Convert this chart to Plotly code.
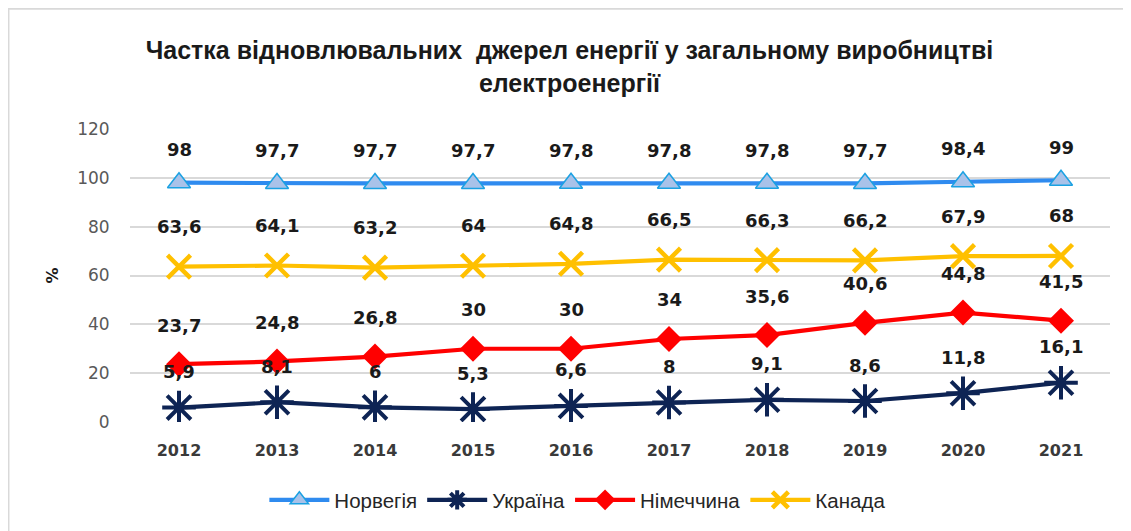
import plotly.graph_objects as go

# роки та частка ВДЕ (%)
years = [2012, 2013, 2014, 2015, 2016, 2017, 2018, 2019, 2020, 2021]
norway = [98, 97.7, 97.7, 97.7, 97.8, 97.8, 97.8, 97.7, 98.4, 99]
ukraine = [5.9, 8.1, 6, 5.3, 6.6, 8, 9.1, 8.6, 11.8, 16.1]
germany = [23.7, 24.8, 26.8, 30, 30, 34, 35.6, 40.6, 44.8, 41.5]
canada = [63.6, 64.1, 63.2, 64, 64.8, 66.5, 66.3, 66.2, 67.9, 68]
y_ticks = [0, 20, 40, 60, 80, 100, 120]

title = ("Частка відновлювальних  джерел енергії у загальному виробництві"
         "<br>електроенергії")

label_font = dict(family="DejaVu Sans", size=18, color="#1a1a1a")


def fmt(v):
    s = ("%g" % v)
    return s.replace(".", ",")


series = [
    ("Норвегія", norway, "#2F8BEF",
     dict(symbol="triangle-up", size=20, color="#A9C2E9",
          line=dict(color="#1BA1E2", width=1.5)), 33),
    ("Україна", ukraine, "#0E2454",
     dict(symbol="asterisk-open", size=28,
          line=dict(color="#0E2454", width=4)), 36),
    ("Німеччина", germany, "#FF0000",
     dict(symbol="diamond", size=20, color="#FF0000",
          line=dict(color="#FF0000", width=0)), 39),
    ("Канада", canada, "#FFC000",
     dict(symbol="x-thin-open", size=23,
          line=dict(color="#FFC000", width=4.5)), 40),
]

fig = go.Figure()
annotations = []
for name, vals, color, marker, shift in series:
    fig.add_trace(go.Scatter(
        x=years, y=vals, name=name, mode="lines+markers",
        line=dict(color=color, width=4.2), marker=marker,
    ))
    for x, v in zip(years, vals):
        annotations.append(dict(
            x=x, y=v, text="<b>%s</b>" % fmt(v), showarrow=False,
            yshift=shift, font=label_font,
        ))

# сторінка має відступ 8px, тому розмір фігури трохи менший
fig.update_layout(
    width=1123, height=523,
    margin=dict(l=122, r=21, t=121, b=108),
    paper_bgcolor="white", plot_bgcolor="white",
    title=dict(text="<b>%s</b>" % title, x=0.5, xanchor="center",
               y=0.902, yanchor="middle",
               font=dict(family="Liberation Sans", size=25, color="#1a1a1a")),
    xaxis=dict(range=[2011.5, 2021.5], tickvals=years,
               ticktext=["<b>%d</b>" % y for y in years],
               showgrid=False, zeroline=False, showline=False,
               ticks="outside", ticklen=14, tickcolor="rgba(0,0,0,0)",
               tickfont=dict(family="DejaVu Sans", size=16, color="#3a3a3a")),
    yaxis=dict(range=[0, 120], tickvals=y_ticks,
               showgrid=True, gridcolor="#D9D9D9", gridwidth=1.5,
               zeroline=False, showline=False,
               ticks="outside", ticklen=16, tickcolor="rgba(0,0,0,0)",
               tickfont=dict(family="DejaVu Sans", size=17, color="#595959"),
               title=dict(text="<b>%</b>", standoff=14,
                          font=dict(family="DejaVu Sans", size=16,
                                    color="#1a1a1a"))),
    legend=dict(orientation="h", x=0.457, xanchor="center",
                y=-0.262, yanchor="middle",
                font=dict(family="Liberation Sans", size=20.5, color="#262626"),
                itemwidth=60),
    annotations=annotations,
    shapes=[dict(type="rect", xref="paper", yref="paper",
                 x0=-0.124, x1=1.2, y0=-0.6, y1=1.41,
                 line=dict(color="#D9D9D9", width=2), layer="below")],
    showlegend=True,
)

fig.write_html("out.html")
